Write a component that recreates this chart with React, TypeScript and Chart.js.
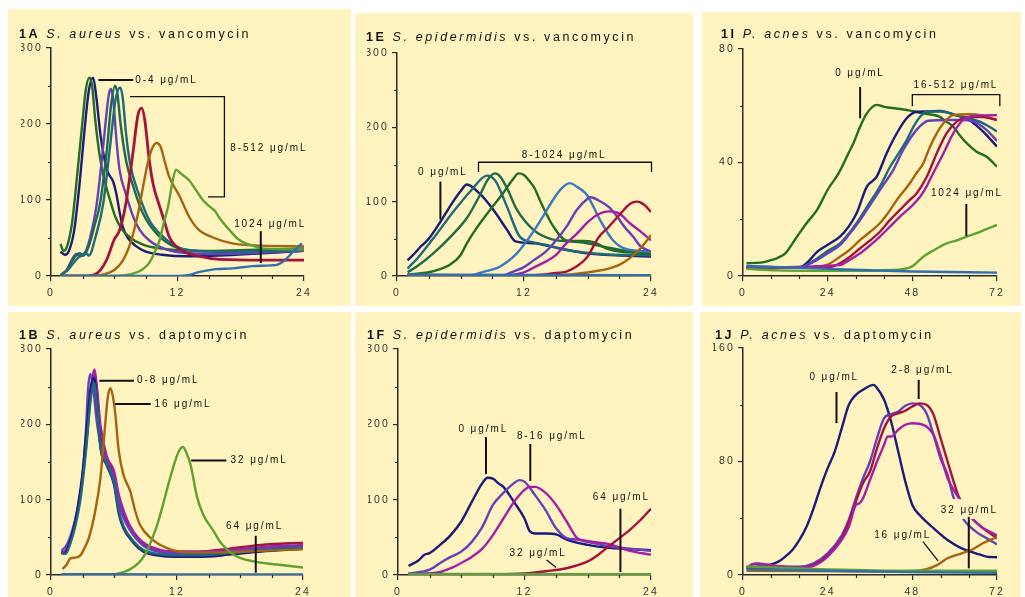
import React, { useEffect, useRef } from 'react';
import { Chart, registerables } from 'chart.js';
Chart.register(...registerables);

type Pt = [number, number];

const FONT = "'Liberation Sans', Arial, Helvetica, sans-serif";
const BG = '#fff4bf';
const AXIS = '#2b2b2b';
const INK = '#111111';
const TICK_TXT = '#333333';

const NAVY = '#1c1a7a';
const DGREEN = '#236c24';
const SEAGREEN = '#1e6a46';
const TEAL = '#1d6a7c';
const PURPLE = '#6640ba';
const MAGENTA = '#a41ea8';
const CRIMSON = '#a3133e';
const BROWN = '#a5640f';
const LGREEN = '#5fa231';
const BLUE = '#3a78c0';
const STEELBLUE = '#2f6fb0';

// ---------- axis ticks ----------
const X24_MAJOR = [0, 12, 24];
const X24_MINOR = [3, 6, 9, 15, 18, 21];
const X72_MAJOR = [0, 24, 48, 72];
const X72_MINOR = [8, 16, 32, 40, 56, 64];
const Y300_MAJOR = [0, 100, 200, 300];
const Y300_MINOR = [50, 150, 250];
const Y80_MAJOR = [0, 40, 80];
const Y80_MINOR = [20, 60];
const Y160_MAJOR = [0, 80, 160];
const Y160_MINOR = [40, 120];

// ---------- 1A S. aureus vs vancomycin ----------
const aDarkGreen: Pt[] = [[0.9,42],[1.2,33],[1.5,38],[2,70],[2.5,135],[3,205],[3.3,245],[3.65,261],[3.9,250],[4.2,205],[4.6,160],[5.1,125],[5.6,100],[6.1,78],[6.7,62],[7.3,53],[8,46],[9,40],[10.5,36],[12,34],[15,33],[18,34],[21,35],[24,36]];
const aNavy: Pt[] = [[0.9,32],[1.3,28],[1.7,33],[2.2,60],[2.7,120],[3.2,195],[3.6,245],[4,261],[4.3,235],[4.7,185],[5.3,140],[5.9,124],[6.2,108],[6.5,85],[6.8,65],[7.3,50],[8,40],[9,32],[10.5,28],[13,26],[16,27],[20,30],[24,33]];
const aPurple: Pt[] = [[0.9,1],[1.5,8],[2,22],[2.4,29],[2.8,26],[3.2,30],[3.7,50],[4.3,91],[4.8,150],[5.2,205],[5.5,240],[5.7,246],[5.95,225],[6.2,180],[6.5,140],[7.1,108],[7.8,78],[8.4,61],[9.3,47],[10.9,35],[13,30],[16,29],[20,31],[24,33]];
const aSeaGreen: Pt[] = [[0.9,1],[1.5,8],[2.2,24],[2.7,30],[3.1,27],[3.6,40],[4.2,70],[4.65,95],[5.3,166],[5.7,225],[6.07,250],[6.3,240],[6.6,200],[7.15,150],[7.8,118],[8.7,83],[10,56],[11.5,40],[13,34],[16,32],[20,34],[24,36]];
const aTeal: Pt[] = [[0.9,1],[1.6,8],[2.3,20],[2.9,28],[3.3,30],[3.6,27],[4.2,50],[4.95,95],[5.6,170],[6.1,230],[6.55,248],[6.8,235],[7.1,190],[7.5,148],[8.4,105],[9.3,74],[10.6,52],[12.2,37],[14,33],[18,32],[24,34]];
const aCrimson: Pt[] = [[0.9,0],[3,0],[4,1],[4.7,8],[5.3,22],[6,48],[6.5,60],[7.1,95],[7.8,165],[8.25,212],[8.6,221],[8.9,205],[9.3,155],[9.7,120],[10.3,92],[10.8,70],[11.2,52],[11.8,40],[12.5,33],[14,26],[16,22],[20,21],[24,21]];
const aBrown: Pt[] = [[0.9,0],[4,0],[5,2],[6,8],[6.8,20],[7.4,38],[7.8,56],[8.3,85],[8.7,115],[9.2,150],[9.6,168],[10,175],[10.4,170],[10.8,150],[11.2,131],[12.2,105],[13.1,78],[14,61],[15.3,51],[17.2,43],[20,40],[24,39]];
const aLightGreen: Pt[] = [[0.9,0],[6,0],[7,1],[8,4],[8.7,9],[9.3,17],[9.8,30],[10.3,47],[10.7,70],[11.1,91],[11.5,122],[11.85,140],[12.3,135],[13.1,126],[13.8,112],[14.4,100],[15,92],[15.6,85],[15.9,78],[16.9,61],[17.8,48],[19.1,40],[20.3,36],[24,35]];
const aBlue: Pt[] = [[0.9,0],[12,0],[13,1],[14,5],[15.6,9],[17.2,10],[19.1,13],[20.9,14],[21.5,15],[22.2,21],[22.9,31],[23.8,43]];

// ---------- 1B S. aureus vs daptomycin ----------
const bNavy: Pt[] = [[1,30],[1.3,28],[1.7,40],[2.2,65],[2.6,95],[3,135],[3.4,195],[3.8,250],[4.1,262],[4.4,225],[4.7,170],[5.3,146],[6,120],[6.45,82],[6.9,62],[7.9,42],[8.8,31],[10.1,26],[12,24],[14,24],[17,27],[20,31],[24,35]];
const bTeal: Pt[] = [[1,29],[1.4,28],[1.8,40],[2.3,64],[2.8,100],[3.3,160],[3.8,235],[4.1,255],[4.4,222],[4.7,172],[5.3,148],[6,123],[6.45,86],[6.9,65],[7.9,44],[8.8,33],[10.1,28],[12,26],[14,26],[17,29],[20,33],[24,36]];
const bPurple: Pt[] = [[1,32],[1.5,40],[2,58],[2.5,85],[3,130],[3.3,185],[3.55,250],[3.75,267],[4,250],[4.35,205],[4.7,175],[5.3,150],[6,128],[6.45,96],[6.9,76],[7.5,60],[8.2,47],[9,37],[10.5,30],[12,28],[14,28],[17,31],[20,35],[24,38]];
const bMagenta: Pt[] = [[1,30],[1.4,33],[1.8,45],[2.3,70],[2.8,108],[3.3,170],[3.8,245],[4.15,273],[4.4,245],[4.7,200],[5.3,158],[6,138],[6.5,104],[7,82],[7.5,66],[8.2,51],[9,41],[10.5,33],[12,31],[14,31],[17,33],[20,37],[24,40]];
const bCrimson: Pt[] = [[1,30],[1.4,30],[1.8,43],[2.3,68],[2.8,105],[3.3,165],[3.8,240],[4.15,266],[4.4,240],[4.7,192],[5.3,154],[6,132],[6.5,98],[7,77],[7.5,62],[8.2,48],[9,39],[10.5,32],[12,31],[14,31],[17,35],[20,40],[24,43]];
const bBrown: Pt[] = [[1.1,8],[1.5,14],[1.85,22],[2.3,23],[2.8,26],[3.2,36],[3.6,49],[4.2,84],[4.7,128],[5.1,190],[5.4,235],[5.65,248],[5.85,240],[6.1,217],[6.45,165],[6.9,133],[7.55,111],[8,86],[8.5,66],[9.5,49],[11,36],[13,30],[16,30],[20,32],[24,34]];
const bGreen: Pt[] = [[1,0],[5,0],[6,1],[7,4],[8,12],[8.6,20],[9.1,31],[9.6,47],[10.1,66],[10.6,90],[11,111],[11.7,146],[12.2,165],[12.57,170],[12.9,162],[13.3,146],[13.9,104],[14.5,80],[15.5,58],[16.1,44],[17.4,27],[19.3,18],[21.5,14],[24,10]];
const bBlue: Pt[] = [[1,1],[12,0.8],[24,0.6]];

// ---------- 1E S. epidermidis vs vancomycin ----------
const eNavy: Pt[] = [[1,21],[1.5,28],[2.2,39],[3,50],[4.06,72],[5.3,100],[6,114],[6.6,123],[7.8,111],[9.1,89],[10.4,62],[11.15,47],[12.9,44],[15.4,37],[17.9,30.5],[24,26]];
const eTeal: Pt[] = [[1,10],[2,25],[3.4,50],[5.3,86],[7,115],[8.5,135],[9.3,128],[10.4,93],[11.6,53],[13,45],[14,42],[16,35],[20,29],[24,28]];
const eDarkGreen: Pt[] = [[1,5],[2,14],[3.4,30],[5,52],[6.6,78],[7.8,108],[8.6,130],[9.26,138],[9.8,133],[10.5,115],[11.3,90],[12.9,62],[14.5,50],[17.6,45],[20,38],[24,28]];
const eGreen: Pt[] = [[1,2],[3,5],[4,9],[5,15],[6,28],[6.6,44],[7.5,64],[8.8,89],[10,111],[11,131],[11.46,138],[12,136],[12.5,128],[13,118],[13.5,102],[14.8,66],[16,48],[17.5,47],[18.5,46],[19.8,37],[21,33],[24,31]];
const eBlue: Pt[] = [[1,1],[7,1],[8,5],[9.7,12.5],[11.3,30],[12.9,60],[14,85],[15,108],[15.7,120],[16.35,125],[17,120],[17.9,110],[18.5,95],[19.2,75],[20.4,48],[21.7,36],[24,33]];
const ePurple: Pt[] = [[1,1],[10,1],[11,6],[12,12],[12.9,21],[14,32],[14.8,44],[16,66],[17,89],[18,104],[18.3,106],[19,102],[20,93],[20.8,80],[21.5,66],[22.3,53],[23,40],[24,33]];
const eMagenta: Pt[] = [[1,1],[10,1],[12,5],[13,12],[14,19],[15,28],[16,44],[17,57],[18,72],[19,83],[20,87],[21,84],[22,71],[23,60],[24,48]];
const eCrimson: Pt[] = [[1,1],[13,1],[15,4],[16,6],[17,13],[18,26],[19,51],[20,66],[21,82],[22,97],[22.65,100],[23,99],[23.5,94],[24,86]];
const eBrown: Pt[] = [[1,1],[15,1],[17,3],[19,7],[20,10],[21,15],[22,24],[23,37],[24,55]];
const eFlat: Pt[] = [[1,2],[12,1.5],[24,1]];

// ---------- 1F S. epidermidis vs daptomycin ----------
const fNavy: Pt[] = [[1,12],[2,20],[2.5,27],[3,29],[4,40],[5,53],[6,71],[7,97],[8,122],[8.5,129],[9,128],[9.5,122],[10,117],[11,97],[12,75],[12.5,58],[13,55],[14,55],[15,54],[16,47],[18,40],[20,36],[24,33]];
const fPurple: Pt[] = [[1,2],[3,7],[4,16],[5,24],[6,31],[7,44],[8,64],[9,93],[10,109],[11,122],[11.5,126],[12,124],[13,106],[14,86],[15,62],[16,49],[17,47],[18,44],[20,38],[22,35],[24,32]];
const fMagenta: Pt[] = [[1,1],[4,4],[5,9],[6,16],[7,24],[8,35],[9,53],[10,75],[11,97],[12,113],[12.5,117],[13,117],[14,109],[15,93],[16,71],[17,49],[18,45],[20,41],[22,32],[24,27]];
const fCrimson: Pt[] = [[1,1],[10,1],[12,2],[14,5],[16,9],[18,18],[19,27],[20,38],[21,49],[22,60],[23,73],[24,88]];
const fGreen: Pt[] = [[1,1],[24,1]];
const fBlue: Pt[] = [[1,1.5],[24,1]];

// ---------- 1I P. acnes vs vancomycin ----------
const iDarkGreen: Pt[] = [[1,4.5],[5,4.7],[8,5.6],[10,6.5],[12,8],[15,13.3],[18,18.6],[21,23.3],[24,30.4],[27,36],[30,43.5],[31.3,46.8],[33.2,52.6],[35.1,57.3],[37.9,60.3],[40,59.6],[41.7,59.3],[46.4,58.5],[51.1,57.3],[55.8,56.1],[57.5,54.5],[59.6,52.6],[61.5,49.5],[63.4,46.8],[66.2,43.8],[69.1,42],[72,38.5]];
const iNavy: Pt[] = [[1,3.3],[16,3],[18,4.5],[21,8.5],[24,11],[27.5,13.9],[30,17.5],[32.2,22.1],[35.1,31.5],[37.9,35],[40.7,43.2],[43.6,50.3],[46.4,55.6],[49.2,57.9],[52,58],[56,58.2],[60,56.8],[64,55],[68,51],[72,45.6]];
const iTeal: Pt[] = [[1,3],[16,3],[21,6.2],[24,8.8],[27.5,11.5],[30,15],[33.2,20.5],[36,26],[38.8,31.5],[41.7,38.5],[44,43],[46.4,47.9],[48.5,53],[50.2,56.1],[52,57.9],[56,58],[60,56.8],[64,55.6],[68,53.9],[72,50.9]];
const iPurple: Pt[] = [[1,3],[16,3],[20,5],[24,8],[27.5,10.9],[30,14.5],[33.2,19.7],[36,25],[38.8,30.3],[42.6,37.4],[45.4,44.4],[49.2,51.5],[52.5,54.7],[58,55],[62,55],[65.3,54.5],[69,51.5],[72,47.6]];
const iBrown: Pt[] = [[1,3],[20,3],[24,4],[27.5,6.8],[30,9],[33.2,12.7],[36,15.5],[38.8,18.6],[41,22],[43.6,26.8],[47.3,32.7],[49,36],[51.1,39.7],[52.5,44],[53.9,47.9],[56.8,53.8],[59.6,56.7],[64,57],[68,56.5],[72,54.9]];
const iCrimson: Pt[] = [[1,3],[24,3],[27.5,4.5],[30,6.5],[33.2,9.8],[36,12.5],[38.8,15.6],[41.5,19.5],[44.5,23.3],[47,26.5],[49.2,29.1],[52.1,35],[54.9,43.2],[57.7,50.3],[60.6,54.4],[64,56],[68,56],[72,55]];
const iMagenta: Pt[] = [[1,3],[27.5,3.9],[30,5.5],[33.2,8],[36,10.8],[38.8,13.9],[41.5,17.2],[44.5,20.9],[47.5,24.3],[50.2,27.9],[52,31.5],[53.9,36.2],[56.8,43.2],[59.6,50.3],[62.4,55],[65,56.4],[68,56.6],[72,56.7]];
const iLightGreen: Pt[] = [[1,2.5],[10,2],[30,1.8],[42.6,2.1],[47.8,3.3],[51.1,6.8],[54,9],[57.7,11.5],[60.5,12.5],[63.4,13.9],[66,15],[69,16.5],[72,18]];
const iBlue: Pt[] = [[1,3.5],[24,2.5],[48,1.6],[72,1.2]];

// ---------- 1J P. acnes vs daptomycin ----------
const jNavy: Pt[] = [[1,4.7],[5,6.4],[8,7.5],[10,9.4],[12,13],[14,17.6],[16,24.7],[18,34],[20,47],[22,62],[24,75.3],[26,87],[28,103.5],[30,120],[32,127],[34,130.6],[36,133.4],[37,134],[38,131.8],[40,123.5],[42,108],[44,87],[46,66],[48,49.4],[50,42.4],[54,33],[58,24.7],[62,18.8],[66,15.3],[69,13],[72,12.5]];
const jPurple: Pt[] = [[1,5],[3,8],[6,7],[10,6],[16,5.9],[20,8.2],[24,15.3],[28,28],[30,39],[32,54],[34,68],[36,80],[38,96.5],[40,110.6],[42,113.4],[44,115.3],[46,119.3],[48,121],[50,120],[52,114],[54,99],[56,82],[58,70.6],[59.5,56],[61,47],[62.7,38.5],[66,30.6],[69,26],[72,21.6]];
const jCrimson: Pt[] = [[1,5],[10,5],[16,5],[20,7],[24,13.6],[28,26],[30,37.6],[32,51.8],[34,64.7],[36,73],[38,89.4],[40,103.5],[42,111.8],[44,114],[46,115.8],[48,118.8],[50,121],[52,120],[54,113],[56,96.5],[58,80],[60,63.5],[61,56],[63,47],[65,40],[68,33],[72,26]];
const jMagenta: Pt[] = [[1,5],[2.5,7],[4,8.2],[8,7],[16,5],[20,6.4],[24,13],[28,24.7],[30,34],[32,49.4],[33,50.6],[34,54],[36,67],[38,80],[40,91.8],[41,97.6],[42,97.6],[44,102.4],[46,105.9],[48,107],[50,106.6],[52,104.7],[54,98.8],[56,84.7],[58,68.2],[60,58.8],[61.5,53],[64,42.4],[67,35],[72,27.8]];
const jBrown: Pt[] = [[1,3],[45,2.5],[48,2.8],[52,4.2],[55,7],[58,11.8],[62,15.3],[65,18],[68,22.4],[72,26.6]];
const jGreen: Pt[] = [[1,6],[24,4],[48,3],[72,3]];
const jBlue: Pt[] = [[1,4],[24,3],[48,2],[72,1.5]];

// ---------- panel specs ----------
interface Seg { t: string; bold?: boolean; italic?: boolean }
interface Series { pts: Pt[]; color: string; width?: number }
type Note =
  | { type: 'path'; pts: Pt[]; w: number }
  | { type: 'label'; at: Pt; text: string; align: 'left' | 'center' }
  | { type: 'mask'; from: Pt; to: Pt };
interface PanelSpec {
  box: { left: number; top: number; width: number; height: number };
  plot: { left: number; top: number; right: number; bottom: number };
  title: Seg[];
  titleX: number;
  titleBase: number;
  xMax: number; xMajor: number[]; xMinor: number[];
  yMax: number; yMajor: number[]; yMinor: number[];
  series: Series[];
  notes: Note[];
}

const panels: PanelSpec[] = [
  {
    box: { left: 8, top: 9, width: 343, height: 297 },
    plot: { left: 51, top: 48, right: 304, bottom: 276 },
    title: [{ t: '1A', bold: true }, { t: ' ' }, { t: 'S. aureus', italic: true }, { t: ' vs. vancomycin' }],
    titleX: 19, titleBase: 37.5,
    xMax: 24, xMajor: X24_MAJOR, xMinor: X24_MINOR,
    yMax: 300, yMajor: Y300_MAJOR, yMinor: Y300_MINOR,
    series: [
      { pts: aBlue, color: STEELBLUE }, { pts: aLightGreen, color: LGREEN }, { pts: aBrown, color: BROWN },
      { pts: aCrimson, color: CRIMSON, width: 2.8 }, { pts: aTeal, color: TEAL }, { pts: aSeaGreen, color: SEAGREEN },
      { pts: aPurple, color: PURPLE }, { pts: aDarkGreen, color: DGREEN }, { pts: aNavy, color: NAVY },
    ],
    notes: [
      { type: 'path', pts: [[4.5, 258], [7.8, 258]], w: 2 },
      { type: 'label', at: [8.0, 258], text: '0-4 μg/mL', align: 'left' },
      { type: 'path', pts: [[7.5, 236], [16.45, 236], [16.45, 104], [14.9, 104]], w: 1.3 },
      { type: 'label', at: [17.0, 168], text: '8-512 μg/mL', align: 'left' },
      { type: 'path', pts: [[19.9, 59], [19.9, 17]], w: 2 },
      { type: 'label', at: [20.7, 68], text: '1024 μg/mL', align: 'center' },
    ],
  },
  {
    box: { left: 355, top: 13, width: 338, height: 293 },
    plot: { left: 397, top: 53, right: 651, bottom: 276 },
    title: [{ t: '1E', bold: true }, { t: ' ' }, { t: 'S. epidermidis', italic: true }, { t: ' vs. vancomycin' }],
    titleX: 366, titleBase: 40.7,
    xMax: 24, xMajor: X24_MAJOR, xMinor: X24_MINOR,
    yMax: 300, yMajor: Y300_MAJOR, yMinor: Y300_MINOR,
    series: [
      { pts: eFlat, color: STEELBLUE }, { pts: eBrown, color: BROWN }, { pts: eCrimson, color: CRIMSON },
      { pts: eMagenta, color: MAGENTA }, { pts: ePurple, color: PURPLE }, { pts: eBlue, color: BLUE },
      { pts: eGreen, color: DGREEN }, { pts: eDarkGreen, color: SEAGREEN }, { pts: eTeal, color: TEAL },
      { pts: eNavy, color: NAVY },
    ],
    notes: [
      { type: 'path', pts: [[4.1, 127], [4.1, 76]], w: 2 },
      { type: 'label', at: [4.25, 139], text: '0 μg/mL', align: 'center' },
      { type: 'path', pts: [[7.7, 140], [7.7, 153], [24.05, 153], [24.05, 140]], w: 1.3 },
      { type: 'label', at: [15.7, 163], text: '8-1024 μg/mL', align: 'center' },
    ],
  },
  {
    box: { left: 702, top: 12, width: 319, height: 294 },
    plot: { left: 743, top: 49, right: 997, bottom: 276 },
    title: [{ t: '1I', bold: true }, { t: ' ' }, { t: 'P. acnes', italic: true }, { t: ' vs. vancomycin' }],
    titleX: 721, titleBase: 38.3,
    xMax: 72, xMajor: X72_MAJOR, xMinor: X72_MINOR,
    yMax: 80, yMajor: Y80_MAJOR, yMinor: Y80_MINOR,
    series: [
      { pts: iBlue, color: STEELBLUE }, { pts: iLightGreen, color: LGREEN }, { pts: iMagenta, color: MAGENTA },
      { pts: iCrimson, color: CRIMSON }, { pts: iBrown, color: BROWN }, { pts: iPurple, color: PURPLE },
      { pts: iTeal, color: TEAL }, { pts: iNavy, color: NAVY }, { pts: iDarkGreen, color: DGREEN },
    ],
    notes: [
      { type: 'path', pts: [[33.2, 66.6], [33.2, 55.6]], w: 2 },
      { type: 'label', at: [32.9, 71.3], text: '0 μg/mL', align: 'center' },
      { type: 'path', pts: [[48, 59.8], [48, 63.9], [72.8, 63.9], [72.8, 59.8]], w: 1.3 },
      { type: 'label', at: [60.1, 67.4], text: '16-512 μg/mL', align: 'center' },
      { type: 'path', pts: [[63.3, 25.4], [63.3, 14.1]], w: 2 },
      { type: 'label', at: [63.2, 29.2], text: '1024 μg/mL', align: 'center' },
    ],
  },
  {
    box: { left: 8, top: 312, width: 343, height: 285 },
    plot: { left: 51, top: 349, right: 303, bottom: 575 },
    title: [{ t: '1B', bold: true }, { t: ' ' }, { t: 'S. aureus', italic: true }, { t: ' vs. daptomycin' }],
    titleX: 19, titleBase: 339,
    xMax: 24, xMajor: X24_MAJOR, xMinor: X24_MINOR,
    yMax: 300, yMajor: Y300_MAJOR, yMinor: Y300_MINOR,
    series: [
      { pts: bBlue, color: STEELBLUE }, { pts: bGreen, color: LGREEN }, { pts: bBrown, color: BROWN },
      { pts: bTeal, color: TEAL }, { pts: bNavy, color: NAVY }, { pts: bPurple, color: PURPLE },
      { pts: bMagenta, color: MAGENTA }, { pts: bCrimson, color: CRIMSON },
    ],
    notes: [
      { type: 'path', pts: [[4.6, 258], [7.9, 258]], w: 2 },
      { type: 'label', at: [8.2, 258], text: '0-8 μg/mL', align: 'left' },
      { type: 'path', pts: [[6.1, 227], [9.5, 227]], w: 2 },
      { type: 'label', at: [9.85, 227], text: '16 μg/mL', align: 'left' },
      { type: 'path', pts: [[13.35, 152], [16.7, 152]], w: 2 },
      { type: 'label', at: [17.1, 152], text: '32 μg/mL', align: 'left' },
      { type: 'path', pts: [[19.5, 52], [19.5, 3]], w: 2 },
      { type: 'label', at: [19.3, 65], text: '64 μg/mL', align: 'center' },
    ],
  },
  {
    box: { left: 355, top: 312, width: 338, height: 285 },
    plot: { left: 398, top: 349, right: 651, bottom: 575 },
    title: [{ t: '1F', bold: true }, { t: ' ' }, { t: 'S. epidermidis', italic: true }, { t: ' vs. daptomycin' }],
    titleX: 367, titleBase: 339,
    xMax: 24, xMajor: X24_MAJOR, xMinor: X24_MINOR,
    yMax: 300, yMajor: Y300_MAJOR, yMinor: Y300_MINOR,
    series: [
      { pts: fGreen, color: LGREEN }, { pts: fBlue, color: STEELBLUE }, { pts: fCrimson, color: CRIMSON },
      { pts: fMagenta, color: MAGENTA }, { pts: fPurple, color: PURPLE }, { pts: fNavy, color: NAVY },
    ],
    notes: [
      { type: 'path', pts: [[8.35, 183], [8.35, 134]], w: 2 },
      { type: 'label', at: [8.0, 194], text: '0 μg/mL', align: 'center' },
      { type: 'path', pts: [[12.55, 174], [12.55, 125]], w: 2 },
      { type: 'label', at: [14.5, 184], text: '8-16 μg/mL', align: 'center' },
      { type: 'path', pts: [[21.1, 88], [21.1, 4]], w: 2 },
      { type: 'label', at: [21.1, 103], text: '64 μg/mL', align: 'center' },
      { type: 'path', pts: [[14.1, 20], [15.0, 10]], w: 1.3 },
      { type: 'label', at: [13.2, 29], text: '32 μg/mL', align: 'center' },
    ],
  },
  {
    box: { left: 700, top: 312, width: 321, height: 285 },
    plot: { left: 743, top: 348, right: 997, bottom: 575 },
    title: [{ t: '1J', bold: true }, { t: ' ' }, { t: 'P. acnes', italic: true }, { t: ' vs. daptomycin' }],
    titleX: 715, titleBase: 339,
    xMax: 72, xMajor: X72_MAJOR, xMinor: X72_MINOR,
    yMax: 160, yMajor: Y160_MAJOR, yMinor: Y160_MINOR,
    series: [
      { pts: jBlue, color: STEELBLUE }, { pts: jGreen, color: LGREEN }, { pts: jBrown, color: BROWN },
      { pts: jMagenta, color: MAGENTA }, { pts: jCrimson, color: CRIMSON }, { pts: jPurple, color: PURPLE },
      { pts: jNavy, color: NAVY },
    ],
    notes: [
      { type: 'mask', from: [55.5, 53.5], to: [72.4, 39.5] },
      { type: 'path', pts: [[26.5, 129], [26.5, 107]], w: 2 },
      { type: 'label', at: [25.6, 139.3], text: '0 μg/mL', align: 'center' },
      { type: 'path', pts: [[49.8, 137.6], [49.8, 124]], w: 2 },
      { type: 'label', at: [50.6, 144], text: '2-8 μg/mL', align: 'center' },
      { type: 'path', pts: [[64, 41], [64, 4.7]], w: 2 },
      { type: 'label', at: [63.9, 45.6], text: '32 μg/mL', align: 'center' },
      { type: 'path', pts: [[51, 23.5], [55.3, 9.9]], w: 1.3 },
      { type: 'label', at: [45, 28], text: '16 μg/mL', align: 'center' },
    ],
  },
];

const Y_AXIS_W = 30;
const X_AXIS_H = 20;
const TICK_SP = 2.1;
const NOTE_SP = 1.9;
const TITLE_SP = 2.6;
const TICK_SIZE = 10.5;
const NOTE_SIZE = 10;
const TITLE_SIZE = 12.5;

function makeDecor(spec: PanelSpec) {
  return {
    id: 'decor',
    beforeDraw(chart: any) {
      const ctx = chart.ctx;
      ctx.save();
      ctx.fillStyle = BG;
      ctx.fillRect(0, 0, chart.width, chart.height);
      ctx.restore();
      ctx.letterSpacing = TICK_SP + 'px';
    },
    afterDatasetsDraw(chart: any) {
      const ctx = chart.ctx;
      const xs = chart.scales.x;
      const ys = chart.scales.y;
      const px = (v: number) => xs.getPixelForValue(v);
      const py = (v: number) => ys.getPixelForValue(v);
      ctx.save();
      for (const n of spec.notes) {
        if (n.type === 'mask') {
          ctx.fillStyle = BG;
          const x1 = px(n.from[0]), y1 = py(n.from[1]);
          const x2 = px(n.to[0]), y2 = py(n.to[1]);
          ctx.fillRect(x1, y1, x2 - x1, y2 - y1);
        } else if (n.type === 'path') {
          ctx.strokeStyle = INK;
          ctx.lineWidth = n.w;
          ctx.lineCap = 'butt';
          ctx.lineJoin = 'miter';
          ctx.beginPath();
          n.pts.forEach((p, i) => {
            if (i === 0) ctx.moveTo(px(p[0]), py(p[1]));
            else ctx.lineTo(px(p[0]), py(p[1]));
          });
          ctx.stroke();
        } else if (n.type === 'label') {
          ctx.fillStyle = INK;
          ctx.font = `${NOTE_SIZE}px ${FONT}`;
          ctx.letterSpacing = NOTE_SP + 'px';
          ctx.textBaseline = 'middle';
          ctx.textAlign = n.align;
          const x = px(n.at[0]) + (n.align === 'center' ? NOTE_SP / 2 : 0);
          ctx.fillText(n.text, x, py(n.at[1]));
        }
      }
      ctx.restore();
    },
    afterDraw(chart: any) {
      const ctx = chart.ctx;
      const xs = chart.scales.x;
      const ys = chart.scales.y;
      const area = chart.chartArea;
      ctx.save();
      ctx.strokeStyle = AXIS;
      ctx.lineWidth = 1.2;
      ctx.beginPath();
      for (const v of spec.yMinor) {
        const y = Math.round(ys.getPixelForValue(v)) + 0.5;
        ctx.moveTo(area.left - 3, y);
        ctx.lineTo(area.left, y);
      }
      for (const v of spec.xMinor) {
        const x = Math.round(xs.getPixelForValue(v)) + 0.5;
        ctx.moveTo(x, area.bottom);
        ctx.lineTo(x, area.bottom + 3);
      }
      ctx.stroke();
      // title
      ctx.letterSpacing = TITLE_SP + 'px';
      ctx.fillStyle = INK;
      ctx.textBaseline = 'alphabetic';
      ctx.textAlign = 'left';
      let x = spec.titleX - spec.box.left;
      const y = spec.titleBase - spec.box.top;
      for (const s of spec.title) {
        ctx.font = `${s.italic ? 'italic ' : ''}${s.bold ? 'bold ' : ''}${TITLE_SIZE}px ${FONT}`;
        ctx.fillText(s.t, x, y);
        x += ctx.measureText(s.t).width;
      }
      ctx.restore();
    },
  };
}

function Panel({ spec }: { spec: PanelSpec }) {
  const ref = useRef<HTMLCanvasElement>(null);
  useEffect(() => {
    const canvas = ref.current;
    if (!canvas) return;
    const { box, plot } = spec;
    const padding = {
      left: plot.left - box.left - Y_AXIS_W,
      top: plot.top - box.top,
      right: box.left + box.width - plot.right,
      bottom: box.top + box.height - plot.bottom - X_AXIS_H,
    };
    const chart = new Chart(canvas, {
      type: 'line',
      data: {
        datasets: spec.series.map((s) => ({
          data: s.pts.map(([x, y]) => ({ x, y })),
          borderColor: s.color,
          borderWidth: s.width ?? 2.4,
          pointRadius: 0,
          fill: false,
          cubicInterpolationMode: 'monotone' as const,
        })),
      },
      options: {
        responsive: false,
        animation: false,
        devicePixelRatio: 1,
        events: [],
        layout: { padding },
        plugins: { legend: { display: false }, tooltip: { enabled: false }, title: { display: false } },
        scales: {
          x: {
            type: 'linear',
            min: 0,
            max: spec.xMax,
            afterFit: (s: any) => { s.height = X_AXIS_H; },
            afterBuildTicks: (s: any) => { s.ticks = spec.xMajor.map((v) => ({ value: v })); },
            ticks: { color: TICK_TXT, font: { family: FONT, size: TICK_SIZE }, padding: 6, maxRotation: 0, autoSkip: false },
            grid: { display: true, drawOnChartArea: false, drawTicks: true, tickLength: 5, color: AXIS, lineWidth: 1.2 },
            border: { display: true, color: AXIS, width: 1.5 },
          },
          y: {
            type: 'linear',
            min: 0,
            max: spec.yMax,
            afterFit: (s: any) => { s.width = Y_AXIS_W; },
            afterBuildTicks: (s: any) => { s.ticks = spec.yMajor.map((v) => ({ value: v })); },
            ticks: { color: TICK_TXT, font: { family: FONT, size: TICK_SIZE }, padding: 3, autoSkip: false },
            grid: { display: true, drawOnChartArea: false, drawTicks: true, tickLength: 5, color: AXIS, lineWidth: 1.2 },
            border: { display: true, color: AXIS, width: 1.5 },
          },
        },
      },
      plugins: [makeDecor(spec)],
    } as any);
    return () => chart.destroy();
  }, [spec]);
  return (
    <canvas
      ref={ref}
      width={spec.box.width}
      height={spec.box.height}
      style={{ position: 'absolute', left: spec.box.left, top: spec.box.top, width: spec.box.width, height: spec.box.height, display: 'block' }}
    />
  );
}

export default function App() {
  return (
    <div style={{ position: 'absolute', left: 0, top: 0, width: 1025, height: 597, background: '#ffffff', overflow: 'hidden' }}>
      {panels.map((p, i) => (
        <Panel key={i} spec={p} />
      ))}
    </div>
  );
}
